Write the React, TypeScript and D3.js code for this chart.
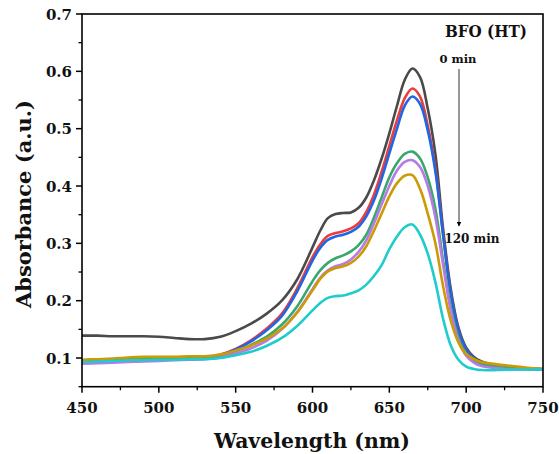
import React from "react";
import * as d3 from "d3";

// Wavelength grid (nm) shared by every spectrum
const wavelengths = [
  450, 460, 470, 480, 490, 500, 510, 520, 530, 540, 550, 560, 570, 580, 590, 600,
  605, 610, 615, 620, 625, 630, 635, 640, 645, 650, 655, 660, 665, 670, 675, 680,
  685, 690, 695, 700, 705, 710, 720, 730, 740, 750,
];

// Absorbance spectra, from 0 min (top) to 120 min (bottom)
const spec0 = [
  0.139, 0.139, 0.138, 0.138, 0.138, 0.137, 0.135, 0.133, 0.133, 0.137, 0.147, 0.16, 0.177, 0.2, 0.237, 0.293,
  0.322, 0.344, 0.351, 0.353, 0.354, 0.362, 0.38, 0.41, 0.448, 0.492, 0.54, 0.585, 0.605, 0.59, 0.535, 0.455,
  0.325, 0.22, 0.153, 0.118, 0.102, 0.094, 0.087, 0.084, 0.082, 0.081,
];
const spec1 = [
  0.096, 0.097, 0.098, 0.099, 0.1, 0.1, 0.1, 0.1, 0.101, 0.106, 0.116, 0.131, 0.151, 0.177, 0.221, 0.276,
  0.298, 0.313, 0.318, 0.321, 0.326, 0.335, 0.355, 0.385, 0.425, 0.47, 0.515, 0.553, 0.57, 0.556, 0.505, 0.43,
  0.315, 0.212, 0.148, 0.115, 0.099, 0.091, 0.085, 0.083, 0.081, 0.08,
];
const spec2 = [
  0.095, 0.096, 0.097, 0.098, 0.099, 0.1, 0.1, 0.1, 0.1, 0.105, 0.115, 0.129, 0.148, 0.173, 0.216, 0.27,
  0.292, 0.306, 0.312, 0.315, 0.32, 0.329, 0.347, 0.375, 0.413, 0.457, 0.5, 0.54, 0.556, 0.543, 0.497, 0.425,
  0.315, 0.212, 0.148, 0.115, 0.099, 0.091, 0.085, 0.083, 0.081, 0.08,
];
const spec3 = [
  0.095, 0.096, 0.097, 0.098, 0.099, 0.1, 0.1, 0.1, 0.1, 0.104, 0.112, 0.123, 0.137, 0.158, 0.19, 0.234,
  0.253, 0.266, 0.274, 0.279, 0.286, 0.297, 0.315, 0.345, 0.38, 0.415, 0.44, 0.456, 0.46, 0.448, 0.415, 0.36,
  0.27, 0.188, 0.135, 0.108, 0.096, 0.09, 0.085, 0.082, 0.081, 0.08,
];
const spec4 = [
  0.09, 0.091, 0.092, 0.093, 0.094, 0.095, 0.096, 0.097, 0.098, 0.101, 0.108, 0.117, 0.13, 0.15, 0.18, 0.22,
  0.24, 0.253, 0.26, 0.264, 0.272, 0.285, 0.305, 0.335, 0.368, 0.4, 0.427, 0.442, 0.445, 0.433, 0.4, 0.345,
  0.262, 0.182, 0.13, 0.104, 0.092, 0.086, 0.082, 0.08, 0.08, 0.08,
];
const spec5 = [
  0.097, 0.098, 0.099, 0.101, 0.102, 0.102, 0.102, 0.103, 0.103, 0.106, 0.113, 0.122, 0.134, 0.151, 0.179, 0.218,
  0.238, 0.251, 0.257, 0.26, 0.266, 0.277, 0.295, 0.322, 0.352, 0.382, 0.405, 0.418, 0.419, 0.395, 0.352, 0.3,
  0.225, 0.165, 0.127, 0.107, 0.098, 0.093, 0.089, 0.086, 0.083, 0.081,
];
const spec6 = [
  0.093, 0.094, 0.095, 0.096, 0.096, 0.097, 0.097, 0.098, 0.098, 0.1, 0.105, 0.111, 0.121, 0.135, 0.156, 0.183,
  0.196, 0.205, 0.208, 0.209, 0.213, 0.218, 0.228, 0.243, 0.262, 0.29, 0.312, 0.328, 0.333, 0.315, 0.282, 0.232,
  0.168, 0.122, 0.097, 0.085, 0.081, 0.079, 0.079, 0.08, 0.08, 0.081,
];

const spectra = [spec0, spec1, spec2, spec3, spec4, spec5, spec6];
const colors = ["#4a4a4a", "#ee3b3b", "#1f66e5", "#3aa86a", "#b57be6", "#cc9a06", "#1fcccc"];

const xTicks = [450, 500, 550, 600, 650, 700, 750];
const xMinor = [475, 525, 575, 625, 675, 725];
const yTicks = [0.1, 0.2, 0.3, 0.4, 0.5, 0.6, 0.7];
const yMinor = [0.05, 0.15, 0.25, 0.35, 0.45, 0.55, 0.65];

const W = 559;
const H = 454;
const M = { left: 82, right: 543, top: 14, bottom: 386.7 };
const FONT = "'DejaVu Serif', serif";

export default function App() {
  const x = d3.scaleLinear().domain([450, 750]).range([M.left, M.right]);
  const y = d3.scaleLinear().domain([0.05, 0.7]).range([M.bottom, M.top]);

  const line = d3
    .line<number>()
    .x((_, i) => x(wavelengths[i]))
    .y((d) => y(d))
    .curve(d3.curveCatmullRom.alpha(0.5));

  const arrowX = 459;

  return (
    <svg
      width={W}
      height={H}
      style={{ position: "absolute", left: 0, top: 0, background: "#fff" }}
      fontFamily={FONT}
    >
      <defs>
        <marker id="head" viewBox="0 0 10 10" refX="9" refY="5" markerWidth="5" markerHeight="7" orient="auto">
          <path d="M0,0 L10,5 L0,10 z" fill="#000" />
        </marker>
      </defs>

      {spectra.map((s, i) => (
        <path key={i} d={line(s) ?? ""} fill="none" stroke={colors[i]} strokeWidth={2.6} strokeLinejoin="round" />
      ))}

      {/* frame */}
      <rect
        x={M.left}
        y={M.top}
        width={M.right - M.left}
        height={M.bottom - M.top}
        fill="none"
        stroke="#000"
        strokeWidth={1.6}
      />

      {/* x axis ticks */}
      {xTicks.map((t) => (
        <g key={t}>
          <line x1={x(t)} x2={x(t)} y1={M.bottom} y2={M.bottom + 6} stroke="#000" strokeWidth={1.5} />
          <text x={x(t)} y={413} textAnchor="middle" fontSize={15} fontWeight="bold" fill="#111">
            {t}
          </text>
        </g>
      ))}
      {xMinor.map((t) => (
        <line key={t} x1={x(t)} x2={x(t)} y1={M.bottom} y2={M.bottom + 3.5} stroke="#000" strokeWidth={1.3} />
      ))}

      {/* y axis ticks */}
      {yTicks.map((t) => (
        <g key={t}>
          <line x1={M.left - 6} x2={M.left} y1={y(t)} y2={y(t)} stroke="#000" strokeWidth={1.5} />
          <text x={72} y={y(t) + 5.5} textAnchor="end" fontSize={15} fontWeight="bold" fill="#111">
            {t.toFixed(1)}
          </text>
        </g>
      ))}
      {yMinor.map((t) => (
        <line key={t} x1={M.left - 3.5} x2={M.left} y1={y(t)} y2={y(t)} stroke="#000" strokeWidth={1.3} />
      ))}

      {/* axis titles */}
      <text
        x={312}
        y={448}
        textAnchor="middle"
        fontSize={21}
        fontWeight="bold"
        fill="#111"
        textLength={196}
        lengthAdjust="spacingAndGlyphs"
      >
        Wavelength (nm)
      </text>
      <text
        transform={`translate(31,204) rotate(-90)`}
        textAnchor="middle"
        fontSize={21}
        fontWeight="bold"
        fill="#111"
        textLength={208}
        lengthAdjust="spacingAndGlyphs"
      >
        Absorbance (a.u.)
      </text>

      {/* annotations */}
      <text x={486} y={37} textAnchor="middle" fontSize={17} fontWeight="bold" fill="#111" textLength={82} lengthAdjust="spacingAndGlyphs">
        BFO (HT)
      </text>
      <text x={458} y={63} textAnchor="middle" fontSize={11.5} fontWeight="bold" fill="#111">
        0 min
      </text>
      <line x1={arrowX} x2={arrowX} y1={69} y2={226} stroke="#333" strokeWidth={1} markerEnd="url(#head)" />
      <text x={472} y={243} textAnchor="middle" fontSize={12} fontWeight="bold" fill="#111">
        120 min
      </text>
    </svg>
  );
}
